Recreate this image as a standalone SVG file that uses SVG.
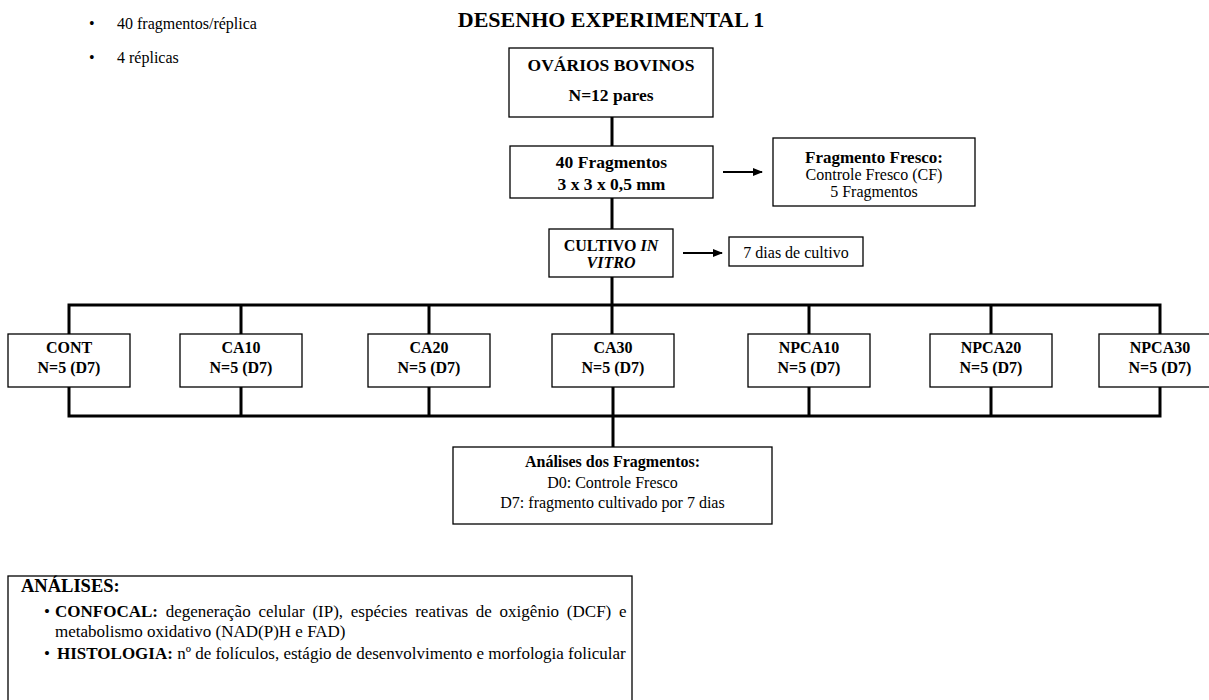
<svg xmlns="http://www.w3.org/2000/svg" width="1209" height="700" viewBox="0 0 1209 700">
<style>
text{font-family:"Liberation Serif","Times New Roman",serif;fill:#000}
.b{font-weight:bold}
.c{text-anchor:middle}
.f16{font-size:16px}
.f17{font-size:17px}
.f175{font-size:17.5px}
.box{fill:#fff;stroke:#000;stroke-width:1.3}
.con{fill:none;stroke:#000;stroke-width:3;stroke-linecap:square}
.arr{fill:none;stroke:#000;stroke-width:2}
</style>
<defs>
<marker id="ah" markerWidth="10" markerHeight="8" refX="9" refY="4" orient="auto" markerUnits="userSpaceOnUse">
<path d="M0,0 L10,4 L0,8 Z" fill="#000"/>
</marker>
</defs>
<rect width="1209" height="700" fill="#fff"/>

<g id="notes">
<text class="f16" x="89" y="29">•</text>
<text class="f16" x="117" y="29">40 fragmentos/réplica</text>
<text class="f16" x="89" y="63">•</text>
<text class="f16" x="117" y="63">4 réplicas</text>
</g>

<g id="title">
<text class="b c" x="611" y="27" style="font-size:22px">DESENHO EXPERIMENTAL 1</text>
</g>

<g id="connectors">
<path class="con" d="M612,117 V146 M612,198 V229 M612,277 V334"/>
<path class="con" d="M69,334 V305 H1160 V334 M241,305 V334 M429,305 V334 M809,305 V334 M991,305 V334"/>
<path class="con" d="M69,387 V416 H1160 V387 M241,387 V416 M429,387 V416 M613,387 V447 M809,387 V416 M991,387 V416"/>
<line class="arr" x1="723" y1="172" x2="762" y2="172" marker-end="url(#ah)"/>
<line class="arr" x1="683" y1="253" x2="722" y2="253" marker-end="url(#ah)"/>
</g>

<g id="ovarios">
<rect class="box" x="509" y="48" width="204" height="69"/>
<text class="b c f175" x="611" y="71">OVÁRIOS BOVINOS</text>
<text class="b c f175" x="611" y="101">N=12 pares</text>
</g>

<g id="fragmentos">
<rect class="box" x="510" y="146" width="203" height="52"/>
<text class="b c f175" x="611.5" y="168">40 Fragmentos</text>
<text class="b c f175" x="611.5" y="190">3 x 3 x 0,5 mm</text>
</g>

<g id="fresco">
<rect class="box" x="773" y="138" width="202" height="68"/>
<text class="b c f17" x="874" y="163">Fragmento Fresco:</text>
<text class="c f16" x="874" y="180">Controle Fresco (CF)</text>
<text class="c f16" x="874" y="197">5 Fragmentos</text>
</g>

<g id="cultivo">
<rect class="box" x="549" y="229" width="124" height="48"/>
<text class="b c f16" x="611" y="251">CULTIVO <tspan font-style="italic">IN</tspan></text>
<text class="b c f16" x="611" y="268" font-style="italic">VITRO</text>
</g>

<g id="dias">
<rect class="box" x="729" y="237" width="134" height="29"/>
<text class="c f16" x="796" y="258">7 dias de cultivo</text>
</g>

<g id="cont">
<rect class="box" x="8" y="334" width="122" height="53"/>
<text class="b c f16" x="69" y="353">CONT</text>
<text class="b c f16" x="69" y="373">N=5 (D7)</text>
</g>
<g id="ca10">
<rect class="box" x="180" y="334" width="122" height="53"/>
<text class="b c f16" x="241" y="353">CA10</text>
<text class="b c f16" x="241" y="373">N=5 (D7)</text>
</g>
<g id="ca20">
<rect class="box" x="368" y="334" width="122" height="53"/>
<text class="b c f16" x="429" y="353">CA20</text>
<text class="b c f16" x="429" y="373">N=5 (D7)</text>
</g>
<g id="ca30">
<rect class="box" x="552" y="334" width="122" height="53"/>
<text class="b c f16" x="613" y="353">CA30</text>
<text class="b c f16" x="613" y="373">N=5 (D7)</text>
</g>
<g id="npca10">
<rect class="box" x="748" y="334" width="122" height="53"/>
<text class="b c f16" x="809" y="353">NPCA10</text>
<text class="b c f16" x="809" y="373">N=5 (D7)</text>
</g>
<g id="npca20">
<rect class="box" x="930" y="334" width="122" height="53"/>
<text class="b c f16" x="991" y="353">NPCA20</text>
<text class="b c f16" x="991" y="373">N=5 (D7)</text>
</g>
<g id="npca30">
<rect class="box" x="1099" y="334" width="122" height="53"/>
<text class="b c f16" x="1160" y="353">NPCA30</text>
<text class="b c f16" x="1160" y="373">N=5 (D7)</text>
</g>

<g id="analises-fragmentos">
<rect class="box" x="453" y="447" width="319" height="77"/>
<text class="b c f16" x="612.5" y="467">Análises dos Fragmentos:</text>
<text class="c f16" x="612.5" y="488">D0: Controle Fresco</text>
<text class="c f16" x="612.5" y="508">D7: fragmento cultivado por 7 dias</text>
</g>

<g id="analises">
<rect class="box" x="8" y="576" width="624" height="130"/>
<text class="b" x="21" y="592" style="font-size:18.5px">ANÁLISES:</text>
<text class="f17" x="44" y="617">•</text>
<text class="f17" x="55" y="617" word-spacing="3.5"><tspan class="b">CONFOCAL:</tspan> degeneração celular (IP), espécies reativas de oxigênio (DCF) e</text>
<text class="f17" x="55" y="637">metabolismo oxidativo (NAD(P)H e FAD)</text>
<text class="f17" x="44" y="659">•</text>
<text class="f17" x="57" y="659"><tspan class="b">HISTOLOGIA:</tspan> nº de folículos, estágio de desenvolvimento e morfologia folicular</text>
</g>
</svg>
